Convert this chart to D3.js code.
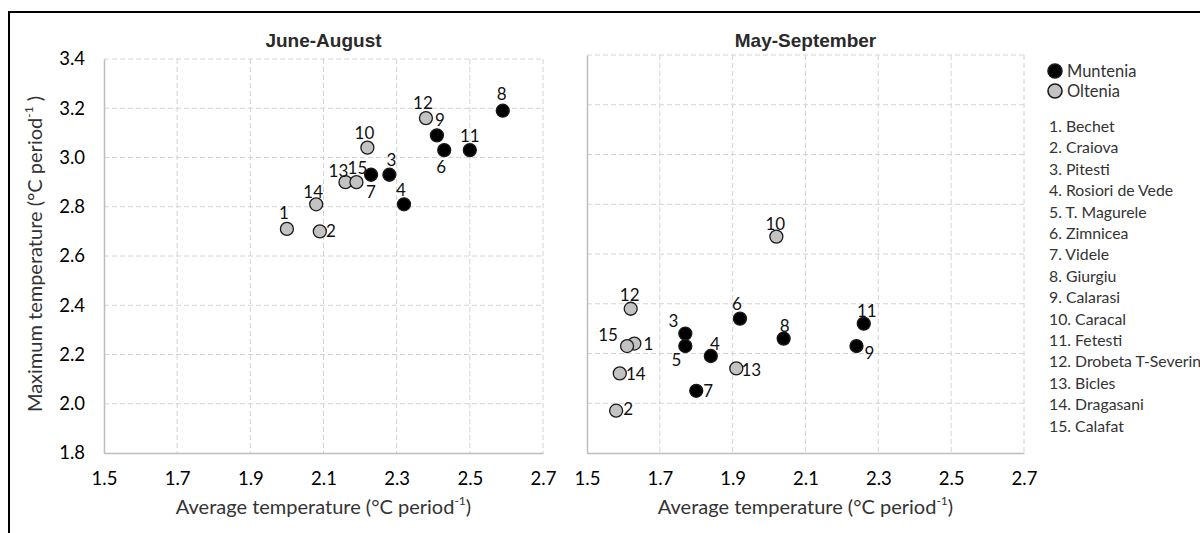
<!DOCTYPE html>
<html>
<head>
<meta charset="utf-8">
<script src="https://cdn.jsdelivr.net/npm/d3@7"></script>
<style>
  body { margin: 0; background: #fff; }
  svg { display: block; font-family: Lato, "Open Sans", sans-serif; }
</style>
</head>
<body>
<div id="chart"></div>
<script>
// Stations (numbered 1..15) and the region each belongs to
const stations = ["Bechet", "Craiova", "Pitesti", "Rosiori de Vede", "T. Magurele", "Zimnicea", "Videle",
  "Giurgiu", "Calarasi", "Caracal", "Fetesti", "Drobeta T-Severin", "Bicles", "Dragasani", "Calafat"];
const regions = ["Oltenia", "Oltenia", "Muntenia", "Muntenia", "Muntenia", "Muntenia", "Muntenia",
  "Muntenia", "Muntenia", "Oltenia", "Muntenia", "Oltenia", "Oltenia", "Oltenia", "Oltenia"];

// June-August (station 5 not shown in this panel)
const jaAvg = [2.00, 2.09, 2.28, 2.32, null, 2.43, 2.23, 2.59, 2.41, 2.22, 2.50, 2.38, 2.16, 2.08, 2.19];
const jaMax = [2.71, 2.70, 2.93, 2.81, null, 3.03, 2.93, 3.19, 3.09, 3.04, 3.03, 3.16, 2.90, 2.81, 2.90];

// May-September
const msAvg = [1.63, 1.58, 1.77, 1.84, 1.77, 1.92, 1.80, 2.04, 2.24, 2.02, 2.26, 1.62, 1.91, 1.59, 1.61];
const msMax = [2.24, 1.97, 2.28, 2.19, 2.23, 2.34, 2.05, 2.26, 2.23, 2.67, 2.32, 2.38, 2.14, 2.12, 2.23];

// Axis ticks
const xTicks = [1.5, 1.7, 1.9, 2.1, 2.3, 2.5, 2.7];
const yTicks = [1.8, 2.0, 2.2, 2.4, 2.6, 2.8, 3.0, 3.2, 3.4];

// Number label offsets (dx, dy) relative to each marker, per panel
const jaLabelOff = [[-3, -16], [11, -1], [2, -15], [-3, -15], null, [-3, 16], [0, 17], [-1, -17],
  [3, -16], [-3, -15], [0, -15], [-3, -16], [-7, -12], [-3, -13], [1, -15]];
const msLabelOff = [[14, 0], [12, -2], [-12, -13], [4, -12], [-9, 13], [-3, -15], [12, 0], [1, -13],
  [13, 6], [-1, -13], [3, -13], [-1, -14], [15, 1], [16, 0], [-19, -12]];

const colors = { Muntenia: "#000000", Oltenia: "#c3c3c3" };

const svg = d3.select("#chart").append("svg")
  .attr("width", 1200)
  .attr("height", 533);

svg.append("rect").attr("width", 1200).attr("height", 533).attr("fill", "#fff");

// outer frame
svg.append("rect")
  .attr("x", 9).attr("y", 12)
  .attr("width", 1200).attr("height", 600)
  .attr("fill", "none").attr("stroke", "#000").attr("stroke-width", 2);

function drawPanel(opts) {
  const { left, right, top, bottom, title, avg, max, offs, showYTicks } = opts;
  const x = d3.scaleLinear().domain([1.5, 2.7]).range([left, right]);
  const y = d3.scaleLinear().domain([1.8, 3.4]).range([bottom, top]);
  const g = svg.append("g");

  // dashed grid
  g.selectAll(".vgrid").data(xTicks.slice(1)).enter().append("line")
    .attr("x1", d => x(d)).attr("x2", d => x(d))
    .attr("y1", top).attr("y2", bottom)
    .attr("stroke", "#d4d4d4").attr("stroke-dasharray", "5,3");
  g.selectAll(".hgrid").data(yTicks.slice(1)).enter().append("line")
    .attr("x1", left).attr("x2", right)
    .attr("y1", d => y(d)).attr("y2", d => y(d))
    .attr("stroke", "#d4d4d4").attr("stroke-dasharray", "5,3");

  // axes (no tick marks, labels only)
  const xAxis = g.append("g")
    .attr("transform", `translate(0,${bottom})`)
    .call(d3.axisBottom(x).tickValues(xTicks).tickFormat(d3.format(".1f")).tickSize(0).tickPadding(19));
  xAxis.select(".domain").attr("stroke", "#bdbdbd").attr("stroke-width", 1.5);
  xAxis.selectAll("text").attr("font-size", 18.5).attr("fill", "#000").attr("font-family", "Lato");

  const yAxis = g.append("g")
    .attr("transform", `translate(${left},0)`)
    .call(d3.axisLeft(y).tickValues(yTicks).tickFormat(d3.format(".1f")).tickSize(0).tickPadding(19));
  yAxis.select(".domain").attr("stroke", "#bdbdbd").attr("stroke-width", 1.5);
  yAxis.selectAll("text").attr("font-size", 18.5).attr("fill", "#000").attr("font-family", "Lato")
    .style("display", showYTicks ? null : "none");

  // panel title
  g.append("text")
    .attr("x", (left + right) / 2).attr("y", 47)
    .attr("text-anchor", "middle")
    .attr("font-family", "Liberation Sans, Arial, sans-serif")
    .attr("font-weight", "bold").attr("font-size", 19).attr("fill", "#2a2a2a")
    .text(title);

  // x axis title with superscript
  const xt = g.append("text")
    .attr("x", (left + right) / 2).attr("y", 514)
    .attr("text-anchor", "middle").attr("font-size", 20).attr("fill", "#333");
  xt.append("tspan").text("Average temperature (°C period");
  xt.append("tspan").attr("dy", -9).attr("font-size", 12).text("-1");
  xt.append("tspan").attr("dy", 9).text(")");

  // points
  const pts = stations.map((s, i) => ({ n: i + 1, region: regions[i], a: avg[i], m: max[i], off: offs[i] }))
    .filter(d => d.a != null);

  g.selectAll(".pt").data(pts).enter().append("circle")
    .attr("cx", d => x(d.a)).attr("cy", d => y(d.m))
    .attr("r", 6.5)
    .attr("fill", d => colors[d.region])
    .attr("stroke", "#1a1a1a").attr("stroke-width", 1.3);

  g.selectAll(".lbl").data(pts).enter().append("text")
    .attr("x", d => x(d.a) + d.off[0]).attr("y", d => y(d.m) + d.off[1])
    .attr("text-anchor", "middle").attr("dominant-baseline", "central")
    .attr("font-size", 17).attr("fill", "#111")
    .text(d => d.n);
}

drawPanel({ left: 104, right: 543, top: 59, bottom: 453, title: "June-August",
  avg: jaAvg, max: jaMax, offs: jaLabelOff, showYTicks: true });
drawPanel({ left: 587, right: 1024, top: 55, bottom: 453, title: "May-September",
  avg: msAvg, max: msMax, offs: msLabelOff, showYTicks: false });

// y axis title
const yt = svg.append("text")
  .attr("transform", "translate(42,254) rotate(-90)")
  .attr("text-anchor", "middle").attr("font-size", 20).attr("fill", "#333");
yt.append("tspan").text("Maximum temperature (°C period");
yt.append("tspan").attr("dy", -9).attr("font-size", 12).text("-1");
yt.append("tspan").attr("dy", 9).text(" )");

// legend: regions
const legend = svg.append("g");
const legendRegions = ["Muntenia", "Oltenia"];
legendRegions.forEach((r, i) => {
  legend.append("circle")
    .attr("cx", 1055).attr("cy", 71 + i * 20).attr("r", 7)
    .attr("fill", colors[r]).attr("stroke", "#1a1a1a").attr("stroke-width", 1.6);
  legend.append("text")
    .attr("x", 1067).attr("y", 71 + i * 20)
    .attr("dominant-baseline", "central").attr("font-size", 16.5).attr("fill", "#333")
    .text(r);
});

// legend: station list
stations.forEach((s, i) => {
  legend.append("text")
    .attr("x", 1049).attr("y", 125.5 + i * 21.4)
    .attr("dominant-baseline", "central").attr("font-size", 15.8).attr("fill", "#333")
    .text(`${i + 1}. ${s}`);
});
</script>
</body>
</html>
